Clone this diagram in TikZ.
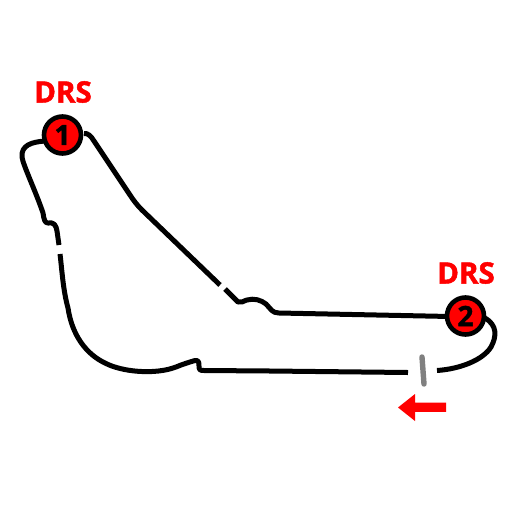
\documentclass[tikz,border=0pt]{standalone}
\usepackage{fontspec}
\setmainfont[BoldFeatures={FakeBold=1.5}]{Open Sans}
\tikzset{
 track/.style={draw=black,line width=5pt,line cap=round,line join=round},
 turn/.style={circle,draw=black,line width=4.6pt,fill=red,minimum size=37pt,inner sep=0pt,font=\bfseries\fontsize{28}{28}\selectfont,text=black},
 drs/.style={text=red,inner sep=0pt,font=\bfseries\fontsize{29.5}{29.5}\selectfont},
 startline/.style={draw=gray,line width=5.4pt,line cap=round},
 dirarrow/.style={fill=red,draw=none}
}
\begin{document}
\begin{tikzpicture}[x=1pt,y=-1pt]
\useasboundingbox (0,0) rectangle (512,512);
\fill[white] (0,0) rectangle (512,512);
% track
\draw[track,line cap=butt] (45,141) .. controls (32,142) and (21,145) .. (22,157)
 .. controls (23,165) and (36,192) .. (43,213)
 .. controls (44,220) and (45,223) .. (48,223)
 .. controls (54,222) and (56,225) .. (57,231) -- (59,245);
\draw[track,line cap=butt] (60,254) .. controls (62,270) and (63,290) .. (68,308)
 .. controls (72,335) and (86,354) .. (105,363)
 .. controls (122,372) and (155,375) .. (176,367)
 .. controls (183,364) and (190,362) .. (195,360.5)
 .. controls (199,360) and (199,363) .. (199,366)
 .. controls (199,370) and (200,370.5) .. (204,370.5)
 -- (270,371) -- (408,372.5);
\draw[track,line cap=butt] (437,370.5) .. controls (460,369) and (483,360) .. (491,347)
 .. controls (497,336) and (497,325) .. (485,318);
\draw[track,line cap=butt] (84,133.5) .. controls (88,133) and (91,136) .. (94,141)
 -- (130,195) .. controls (134,201) and (137,205) .. (142,210)
 -- (220,285);
\draw[track,line cap=butt] (225,289) -- (238,302)
 .. controls (241,303.5) and (243,301) .. (247,300)
 .. controls (254,298) and (261,300) .. (266,304)
 .. controls (271,309) and (272,313) .. (279,313)
 -- (450,316.5);
% start line
\draw[startline] (422,357) -- (424,384);
% direction arrow
\fill[dirarrow] (398,407.5) -- (415,394) -- (415,402.7) -- (446,402.7) -- (446,411.8) -- (415,411.8) -- (415,421) -- cycle;
% markers
\node[turn] (t1) at (62.5,135) {1};
\node[turn] (t2) at (465.5,316) {2};
\node[drs] (d1) at (63,92) {DRS};
\node[drs] (d2) at (466,273) {DRS};
\end{tikzpicture}
\end{document}
